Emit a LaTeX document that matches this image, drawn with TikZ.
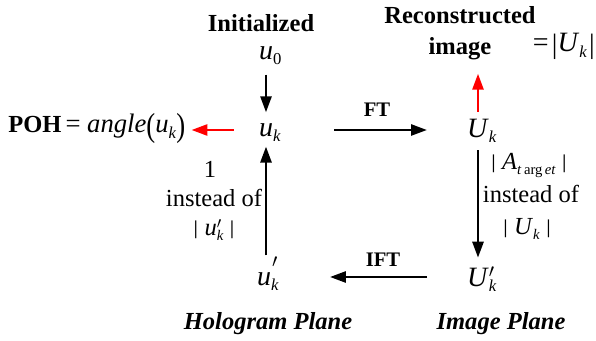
\documentclass[tikz,border=0pt]{standalone}
\usepackage{fontspec}
\setmainfont{Liberation Serif}
\usetikzlibrary{arrows.meta}
\newcommand{\mi}[1]{\textit{#1}}
\newcommand{\sbx}[1]{\raisebox{-0.42ex}{\fontsize{12.5}{12.5}\selectfont #1}}
\newcommand{\ssbx}[1]{\raisebox{-0.42ex}{\fontsize{11}{11}\selectfont #1}}
\newcommand{\sbar}{\raisebox{0.08em}{\scalebox{1}[0.8]{|}}}
\newcommand{\bbar}{\raisebox{-0.06em}{\scalebox{1}[1.0]{|}}}
\newcommand{\lpar}{\raisebox{-0.12em}{\scalebox{1}[1.25]{(}}}
\newcommand{\rpar}{\raisebox{-0.12em}{\scalebox{1}[1.25]{)}}}
\newcommand{\prm}{$\scriptstyle\prime$}
\newcommand{\mfont}{\fontsize{21}{24}\selectfont}
\newcommand{\pfont}{\fontsize{20}{24}\selectfont}
\tikzset{
  lab/.style={font=\fontsize{18.4}{22}\selectfont, inner sep=0pt},
  bflab/.style={font=\fontsize{18.4}{22}\selectfont\bfseries, inner sep=0pt},
  bilab/.style={font=\fontsize{18.4}{22}\selectfont\bfseries\itshape, inner sep=0pt},
  smlab/.style={font=\fontsize{15.5}{18}\selectfont\bfseries, inner sep=0pt},
  var/.style={font=\mfont, inner sep=0pt},
  arr/.style={line width=2pt, -{Triangle[length=12pt,width=8.25pt]}},
  redarr/.style={arr, red},
}
\begin{document}
\begin{tikzpicture}[x=0.75pt,y=-0.75pt]
\useasboundingbox (0,0) rectangle (596,341);
% left column
\node[bflab, anchor=base] (init) at (261,32) {Initialized};
\node[var] (u0) at (266,53) {\mi{u}\rlap{\smash{\sbx{0}}}};
\node[var] (uk) at (266,130) {\mi{u}\rlap{\smash{\sbx{\mi{k}}}}};
\node[var] (ukp) at (264,279) {\mi{u}\rlap{\smash{\sbx{\mi{k}}}}\rlap{\smash{\hspace{0.04em}\raisebox{0.62em}{\prm}}}};
\node[lab, anchor=base west] (poh) at (8,133) {\textbf{POH}\,{\pfont = \mi{angle}\lpar\mi{u}\sbx{\mi{k}}\rpar}};
\node[lab, anchor=base] (one) at (210,178) {1};
\node[lab, anchor=base] (inst1) at (214,207) {instead of};
\node[lab, anchor=base] (abs1) at (214,236) {\sbar\ \mi{u}\rlap{\smash{\raisebox{0.3em}{\prm}}}\ssbx{\mi{k}}\ \sbar};
% right column
\node[bflab, anchor=base] (rec1) at (460,24) {Reconstructed};
\node[bflab, anchor=base] (rec2) at (460,55) {image};
\node[var, anchor=base east] (eqU) at (595,52) {=\hspace{0.12em}\bbar\mi{U}\sbx{\mi{k}}\hspace{0.08em}\bbar};
\node[var] (Uk) at (478,128.5) {\mi{U}\rlap{\smash{\sbx{\mi{k}}}}};
\node[var] (Ukp) at (478,277) {\mi{U}\rlap{\smash{\raisebox{0.3em}{\prm}}}\rlap{\smash{\sbx{\mi{k}}}}};
\node[lab, anchor=base] (abs2) at (529,170) {\sbar\ \mi{A}\ssbx{\mi{t}\,arg\,\mi{et}}\ \sbar};
\node[lab, anchor=base] (inst2) at (531,203) {instead of};
\node[lab, anchor=base] (abs3) at (527,235) {\sbar\ \mi{U}\ssbx{\mi{k}}\ \sbar};
% middle labels
\node[smlab, anchor=base] (ft) at (377,117) {FT};
\node[smlab, anchor=base] (ift) at (383,267) {IFT};
% bottom
\node[bilab, anchor=base] (holo) at (268,330) {Hologram Plane};
\node[bilab, anchor=base] (imgp) at (501,330) {Image Plane};
% arrows
\draw[arr, shorten <=11.1pt, shorten >=8.1pt] (u0.south) -- (uk.north);
\draw[arr, shorten <=12.6pt, shorten >=7.3pt] (ukp.north -| uk) -- (uk.south);
\draw[redarr, shorten <=18.75pt, shorten >=4.5pt] (uk.west) -- (uk.west -| poh.east);
\draw[arr, shorten <=45.75pt, shorten >=29.9pt] (uk.east) -- (uk.east -| Uk.west);
\draw[redarr, shorten <=5.4pt, shorten >=9.75pt] (Uk.north) -- (Uk.north |- rec2.south);
\draw[arr, shorten <=9.15pt, shorten >=7.3pt] (Uk.south) -- (Ukp.north);
\draw[arr, shorten <=29.9pt, shorten >=44pt] (Ukp.west) -- (Ukp.west -| ukp.east);
\end{tikzpicture}
\end{document}
